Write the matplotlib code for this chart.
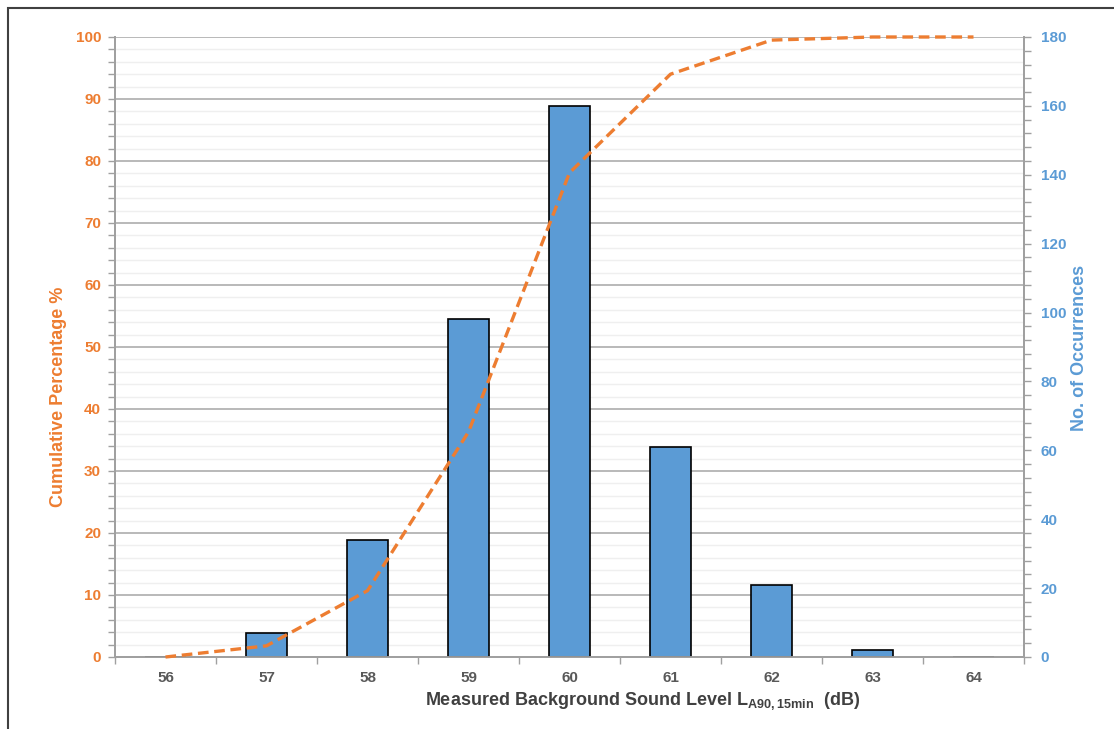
import matplotlib
matplotlib.use("Agg")
import matplotlib.pyplot as plt
from matplotlib.patches import Rectangle
from matplotlib.ticker import MultipleLocator, FixedLocator
import numpy as np

plt.rcParams['font.family'] = ['Liberation Sans', 'DejaVu Sans']
plt.rcParams['mathtext.fontset'] = 'custom'
plt.rcParams['mathtext.rm'] = 'Liberation Sans'
plt.rcParams['mathtext.bf'] = 'Liberation Sans:bold'

# Data
levels = [56, 57, 58, 59, 60, 61, 62, 63, 64]
occurrences = [0, 7, 34, 98, 160, 61, 21, 2, 0]
cumulative_pct = [0, 1.8, 10.7, 36.3, 78.1, 94.0, 99.5, 100, 100]

ORANGE = '#ED7D31'
BLUE = '#5B9BD5'
GRAY_TXT = '#595959'
SPINE = '#A0A0A0'

fig = plt.figure(figsize=(11.14, 7.29), dpi=100)
ax1 = fig.add_axes([115/1114, 72/729, (1024-115)/1114, (657-37)/729])
ax2 = ax1.twinx()

# frame border
fig.patches.append(Rectangle((8/1114, -0.1), 1.2, (729-8)/729 + 0.1,
                             transform=fig.transFigure, fill=False,
                             edgecolor='#404040', linewidth=1.5, zorder=0))

# Left axis (cumulative %)
ax1.set_xlim(55.5, 64.5)
ax1.set_ylim(0, 100)
ax1.yaxis.set_major_locator(MultipleLocator(10))
ax1.yaxis.set_minor_locator(MultipleLocator(2))
ax1.grid(which='major', axis='y', color='#A6A6A6', linewidth=1.1, zorder=0)
ax1.grid(which='minor', axis='y', color='#EFEFEF', linewidth=1.0, zorder=0)
ax1.set_axisbelow(True)
ax1.tick_params(axis='y', which='both', direction='out', length=5, width=1,
                color=SPINE, labelcolor=ORANGE, labelsize=11, pad=5)
for lab in ax1.get_yticklabels():
    lab.set_fontweight('bold')
ax1.set_ylabel('Cumulative Percentage %', color=ORANGE, fontsize=13,
               fontweight='bold')
ax1.yaxis.set_label_coords((67 - 115) / 909, (657 - 397) / 620)

# x axis
ax1.xaxis.set_major_locator(FixedLocator(levels))
ax1.set_xticklabels([str(v) for v in levels])
ax1.xaxis.set_minor_locator(FixedLocator(np.arange(55.5, 65.0, 1.0)))
ax1.tick_params(axis='x', which='major', length=0, labelsize=11,
                labelcolor=GRAY_TXT, pad=10)
ax1.tick_params(axis='x', which='minor', direction='out', length=5,
                width=1, color=SPINE)
for lab in ax1.get_xticklabels():
    lab.set_fontweight('bold')
ax1.set_xlabel(r'Measured Background Sound Level L$_{\mathbf{A90,15min}}$  (dB)',
               fontsize=13, fontweight='bold', color='#404040')
ax1.xaxis.set_label_coords((643 - 115) / 909, -(690 - 657) / 620)

ax1.spines['top'].set_visible(False)
ax2.spines['top'].set_visible(False)
for ax in (ax1, ax2):
    for side in ['left', 'right', 'bottom']:
        ax.spines[side].set_color(SPINE)
        ax.spines[side].set_linewidth(1.3)

# Right axis (occurrences)
ax2.set_ylim(0, 180)
ax2.yaxis.set_major_locator(MultipleLocator(20))
ax2.yaxis.set_minor_locator(MultipleLocator(4))
ax2.tick_params(axis='y', which='both', direction='out', length=5, width=1,
                color=SPINE, labelcolor=BLUE, labelsize=11, pad=7)
for lab in ax2.get_yticklabels():
    lab.set_fontweight('bold')
ax2.set_ylabel('No. of Occurrences', color=BLUE, fontsize=13,
               fontweight='bold')
ax2.yaxis.set_label_coords((1071 - 115) / 909, (657 - 348) / 620)

ax2.bar(levels, occurrences, width=0.4, color=BLUE, edgecolor='black',
        linewidth=1.2, zorder=2)

# cumulative line drawn above bars, in left-axis coordinates
ax2.plot(levels, cumulative_pct, color=ORANGE, linewidth=2.4,
         linestyle=(0, (3.2, 1.7)), transform=ax1.transData, zorder=5,
         clip_on=False, solid_joinstyle='round', dash_joinstyle='round')
ax2.set_ylim(0, 180)
ax2.set_xlim(55.5, 64.5)

fig.savefig('out.png', dpi=100)
